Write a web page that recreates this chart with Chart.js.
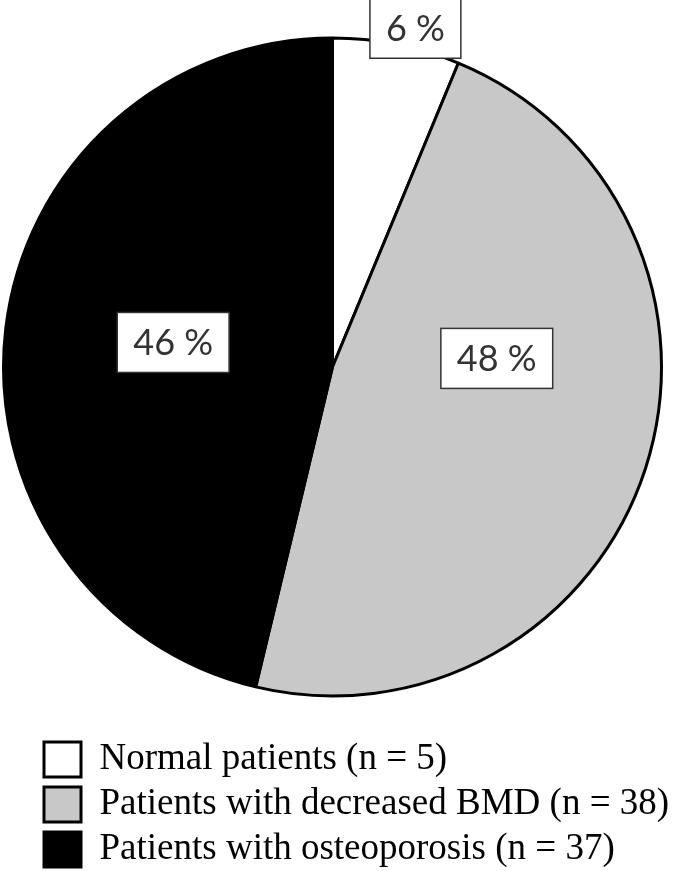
<!DOCTYPE html>
<html>
<head>
<meta charset="utf-8">
<script src="https://cdn.jsdelivr.net/npm/chart.js@4"></script>
<style>
  html, body { margin: 0; padding: 0; background: #fff; }
  #wrap { width: 685px; height: 871px; }
</style>
</head>
<body>
<div id="wrap"><canvas id="pieChart"></canvas></div>
<script>
// Data
const groups = ['Normal patients (n = 5)', 'Patients with decreased BMD (n = 38)', 'Patients with osteoporosis (n = 37)'];
const counts = [5, 38, 37];
const sliceColors = ['#ffffff', '#c8c8c8', '#000000'];

// where each percentage box sits, relative to its slice
const labelSpots = [
  { angleShift: 2.5, radius: 1.06 },
  { angleShift: -21, radius: 0.5 },
  { angleShift: 2, radius: 0.49 }
];

const total = counts.reduce((a, b) => a + b, 0);

// Percentage boxes
const boxLabels = {
  id: 'boxLabels',
  afterDatasetsDraw(chart) {
    const ctx = chart.ctx;
    const arcs = chart.getDatasetMeta(0).data;
    ctx.save();
    ctx.font = '36px Lato';
    ctx.textAlign = 'center';
    ctx.textBaseline = 'middle';
    arcs.forEach((arc, i) => {
      const p = arc.getProps(['x', 'y', 'startAngle', 'endAngle', 'outerRadius'], true);
      const spot = labelSpots[i];
      const a = (p.startAngle + p.endAngle) / 2 + spot.angleShift * Math.PI / 180;
      const cx = p.x + Math.cos(a) * p.outerRadius * spot.radius;
      const cy = p.y + Math.sin(a) * p.outerRadius * spot.radius;
      const text = Math.round(counts[i] * 100 / total) + ' %';
      const w = ctx.measureText(text).width + 32;
      const h = 60;
      ctx.fillStyle = '#fff';
      ctx.fillRect(cx - w / 2, cy - h / 2, w, h);
      ctx.lineWidth = 1.5;
      ctx.strokeStyle = '#333';
      ctx.strokeRect(cx - w / 2, cy - h / 2, w, h);
      ctx.fillStyle = '#333';
      ctx.fillText(text, cx, cy + 1);
    });
    ctx.restore();
  }
};

// move the legend right and down, like the original
const legendShift = {
  id: 'legendShift',
  afterLayout(chart) {
    const lg = chart.legend;
    lg.left += 34;
    lg.right += 34;
    lg.top += 35;
    lg.bottom += 35;
  }
};

const ctx = document.getElementById('pieChart').getContext('2d');
new Chart(ctx, {
  type: 'pie',
  data: {
    labels: groups,
    datasets: [{
      data: counts,
      backgroundColor: sliceColors,
      borderColor: '#000',
      borderWidth: 3
    }]
  },
  options: {
    responsive: true,
    maintainAspectRatio: false,
    animation: false,
    layout: { padding: { top: 36, left: 2, right: 22, bottom: 28 } },
    plugins: {
      tooltip: { enabled: false },
      legend: {
        position: 'bottom',
        align: 'start',
        labels: {
          boxWidth: 37,
          boxHeight: 35,
          padding: 8,
          color: '#000',
          font: { family: 'Liberation Serif', size: 37 }
        }
      }
    }
  },
  plugins: [boxLabels, legendShift]
});
</script>
</body>
</html>
